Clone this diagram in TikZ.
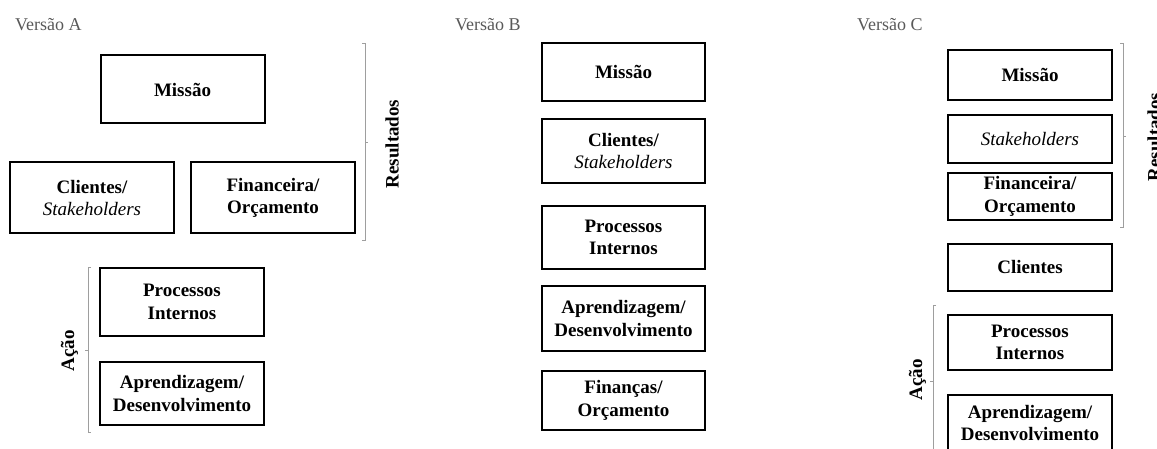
\documentclass[tikz,border=0pt]{standalone}
\usepackage{fontspec}
\setmainfont{Liberation Serif}
\begin{document}
\begin{tikzpicture}[x=1pt,y=-1pt,
  card/.style={draw=black, line width=2pt, align=center, inner sep=0pt,
    font=\fontsize{19}{22.5}\selectfont\bfseries},
  title/.style={anchor=base west, inner sep=0pt, text=black!65,
    font=\fontsize{18}{21}\selectfont},
  side/.style={rotate=90, anchor=base, inner sep=0pt,
    font=\fontsize{19}{22}\selectfont\bfseries},
  brace/.style={draw=black!38, line width=1pt}]
\clip (0,0) rectangle (1157,449);
\useasboundingbox (0,0) rectangle (1157,449);

% ---------- Versão A ----------
\node[title] (tA) at (15,30.5) {Versão A};
\node[card, minimum width=164pt, minimum height=68pt] (mA) at (182.5,89.5) {Missão};
\node[card, minimum width=164pt, minimum height=71pt] (cA) at (92,198) {Clientes/\\\mdseries\itshape Stakeholders};
\node[card, minimum width=164pt, minimum height=71pt] (fA) at (273,198) {Financeira/\\Orçamento};
\node[card, minimum width=164pt, minimum height=67pt] (pA) at (182,302) {Processos\\Internos};
\node[card, minimum width=164pt, minimum height=63pt] (aA) at (182,393.5) {Aprendizagem/\\Desenvolvimento};
\coordinate (rAt) at (365,44);
\coordinate (rAb) at (365,241);
\coordinate (rAm) at (365,143);
\draw[brace] ([xshift=-3pt]rAt) -- (rAt) -- (rAb) -- ([xshift=-3pt]rAb);
\draw[brace] (rAm) -- ([xshift=3pt]rAm);
\node[side] (resA) at (398.5,144) {Resultados};
\coordinate (lAt) at (88,268);
\coordinate (lAb) at (88,432);
\coordinate (lAm) at (88,350);
\draw[brace] ([xshift=3pt]lAt) -- (lAt) -- (lAb) -- ([xshift=3pt]lAb);
\draw[brace] (lAm) -- ([xshift=-3pt]lAm);
\node[side] (acA) at (74,351) {Ação};

% ---------- Versão B ----------
\node[title] (tB) at (455,30.5) {Versão B};
\node[card, minimum width=163pt, minimum height=58pt] (mB) at (623.5,72) {Missão};
\node[card, minimum width=163pt, minimum height=64pt] (cB) at (623.5,151) {Clientes/\\\mdseries\itshape Stakeholders};
\node[card, minimum width=163pt, minimum height=63pt] (pB) at (623.5,237.5) {Processos\\Internos};
\node[card, minimum width=163pt, minimum height=65pt] (aB) at (623.5,318.5) {Aprendizagem/\\Desenvolvimento};
\node[card, minimum width=163pt, minimum height=59pt] (fB) at (623.5,400.5) {Finanças/\\Orçamento};

% ---------- Versão C ----------
\node[title] (tC) at (857,30.5) {Versão C};
\node[card, minimum width=164pt, minimum height=50pt] (mC) at (1030,75) {Missão};
\node[card, minimum width=164pt, minimum height=48pt] (sC) at (1030,139) {\mdseries\itshape Stakeholders};
\node[card, minimum width=164pt, minimum height=47pt] (fC) at (1030,196.5) {Financeira/\\Orçamento};
\node[card, minimum width=164pt, minimum height=47pt] (cC) at (1030,267.5) {Clientes};
\node[card, minimum width=164pt, minimum height=55pt] (pC) at (1030,342.5) {Processos\\Internos};
\node[card, minimum width=164pt, minimum height=56pt] (aC) at (1030,423) {Aprendizagem/\\Desenvolvimento};
\coordinate (rCt) at (1123,44);
\coordinate (rCb) at (1123,228);
\coordinate (rCm) at (1123,137);
\draw[brace] ([xshift=-3pt]rCt) -- (rCt) -- (rCb) -- ([xshift=-3pt]rCb);
\draw[brace] (rCm) -- ([xshift=3pt]rCm);
\node[side] (resC) at (1160.5,137) {Resultados};
\coordinate (lCt) at (933,305);
\coordinate (lCb) at (933,470);
\coordinate (lCm) at (933,381);
\draw[brace] ([xshift=3pt]lCt) -- (lCt) -- (lCb);
\draw[brace] (lCm) -- ([xshift=-3pt]lCm);
\node[side] (acC) at (922,380) {Ação};
\end{tikzpicture}
\end{document}
